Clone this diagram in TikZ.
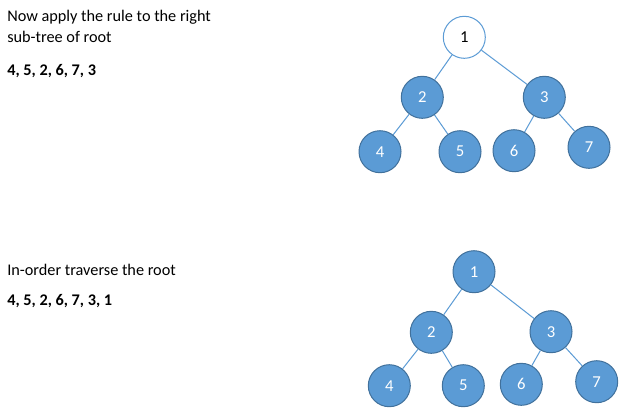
\documentclass[tikz,border=0pt]{standalone}
\usepackage{fontspec}
\setmainfont{Carlito}
\definecolor{nodefill}{HTML}{5B9BD5}
\definecolor{nodeline}{HTML}{41719C}
\definecolor{edgecol}{HTML}{5B9BD5}
\begin{document}
\begin{tikzpicture}[x=0.75pt,y=-0.75pt,
  tnode/.style={circle,draw=nodeline,fill=nodefill,line width=0.75pt,minimum size=31.5pt,inner sep=0pt,text=white,font=\fontsize{12.5pt}{14pt}\selectfont},
  wnode/.style={circle,draw=edgecol,fill=white,line width=0.75pt,minimum size=31.5pt,inner sep=0pt,text=black,font=\fontsize{12.5pt}{14pt}\selectfont},
  edge/.style={draw=edgecol,line width=0.75pt},
  txt/.style={anchor=base west,inner sep=0pt,font=\fontsize{12.2pt}{14pt}\selectfont},
  btxt/.style={txt,font=\fontsize{12.2pt}{14pt}\selectfont\bfseries}]
\useasboundingbox[fill=white] (0,0) rectangle (636,419);
% texts
\node[txt] (t1) at (7,21) {Now apply the rule to the right};
\node[txt] (t2) at (7,42) {sub-tree of root};
\node[btxt] (t3) at (7,75) {4, 5, 2, 6, 7, 3};
\node[txt] (t4) at (7,275) {In-order traverse the root};
\node[btxt] (t5) at (7,305) {4, 5, 2, 6, 7, 3, 1};
% top tree
\node[wnode] (a1) at (464.3,37.3) {1};
\node[tnode] (a2) at (422.3,97.3) {2};
\node[tnode] (a3) at (544.3,97.3) {3};
\node[tnode] (a4) at (380,151.7) {4};
\node[tnode] (a5) at (460,151.7) {5};
\node[tnode] (a6) at (514,150.7) {6};
\node[tnode] (a7) at (589,147.3) {7};
\draw[edge] (a1) -- (a2);
\draw[edge] (a1) -- (a3);
\draw[edge] (a2) -- (a4);
\draw[edge] (a2) -- (a5);
\draw[edge] (a3) -- (a6);
\draw[edge] (a3) -- (a7);
% bottom tree
\node[tnode] (b1) at (474,271.7) {1};
\node[tnode] (b2) at (431.3,332.3) {2};
\node[tnode] (b3) at (551,331.7) {3};
\node[tnode] (b4) at (389.3,385.7) {4};
\node[tnode] (b5) at (463.3,385.7) {5};
\node[tnode] (b6) at (521.3,384.3) {6};
\node[tnode] (b7) at (596.7,381.7) {7};
\draw[edge] (b1) -- (b2);
\draw[edge] (b1) -- (b3);
\draw[edge] (b2) -- (b4);
\draw[edge] (b2) -- (b5);
\draw[edge] (b3) -- (b6);
\draw[edge] (b3) -- (b7);
\end{tikzpicture}
\end{document}
